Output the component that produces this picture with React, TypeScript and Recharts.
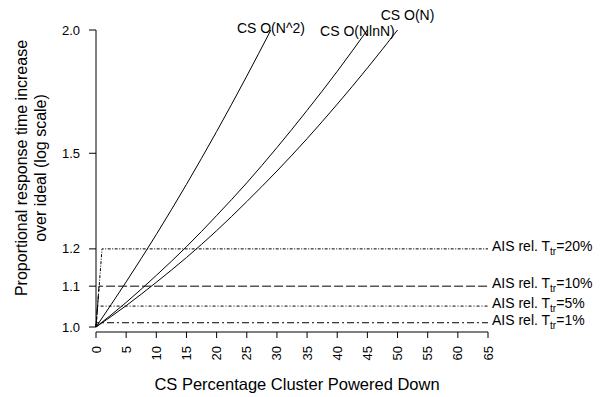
import React from 'react';
import { LineChart, Line, XAxis, YAxis, ReferenceLine } from 'recharts';

// x = % of cluster powered down, y = proportional response time increase
const csN2 = [
    { x: 0, y: 1.0 }, { x: 5, y: 1.111 }, { x: 10, y: 1.241 }, { x: 15, y: 1.395 },
    { x: 20, y: 1.578 }, { x: 25, y: 1.796 }, { x: 29, y: 2.0 },
];
const csNlnN = [
    { x: 0, y: 1.0 }, { x: 5, y: 1.059 }, { x: 10, y: 1.128 }, { x: 15, y: 1.206 },
    { x: 20, y: 1.297 }, { x: 25, y: 1.4 }, { x: 30, y: 1.52 }, { x: 35, y: 1.658 },
    { x: 40, y: 1.816 }, { x: 45, y: 2.0 },
];
const csN = [
    { x: 0, y: 1.0 }, { x: 5, y: 1.051 }, { x: 10, y: 1.11 }, { x: 15, y: 1.176 },
    { x: 20, y: 1.252 }, { x: 25, y: 1.34 }, { x: 30, y: 1.439 }, { x: 35, y: 1.552 },
    { x: 40, y: 1.682 }, { x: 45, y: 1.83 }, { x: 50, y: 2.0 },
];
const ais20 = [{ x: 0, y: 1.0 }, { x: 1, y: 1.2 }, { x: 65, y: 1.2 }];
const ais10 = [{ x: 0, y: 1.0 }, { x: 0.5, y: 1.1 }, { x: 65, y: 1.1 }];
const ais5 = [{ x: 0, y: 1.0 }, { x: 0.25, y: 1.05 }, { x: 65, y: 1.05 }];
const ais1 = [{ x: 0, y: 1.0 }, { x: 0.05, y: 1.01 }, { x: 65, y: 1.01 }];

const xTicks = [0, 5, 10, 15, 20, 25, 30, 35, 40, 45, 50, 55, 60, 65];
const yTicks = [1.0, 1.1, 1.2, 1.5, 2.0];

const FONT = "'Liberation Sans', Arial, Helvetica, sans-serif";

const XTick = (props: any) => {
    const { x, y, payload } = props;
    return (
        <g transform={`translate(${x},${y + 6})`}>
            <text transform="rotate(-90)" textAnchor="end" dy="0.35em" fontSize={13} fill="#000" fontFamily={FONT}>
                {payload.value}
            </text>
        </g>
    );
};

// label drawn only at the last point of a series
const endLabel = (len: number, text: string, dx: number, dy: number) => (p: any) => {
    if (p.index !== len - 1) return null;
    return (
        <text x={p.x + dx} y={p.y + dy} dy="0.35em" textAnchor="middle" fontSize={14} fill="#000" fontFamily={FONT}>
            {text}
        </text>
    );
};

const aisLabel = (len: number, pct: string) => (p: any) => {
    if (p.index !== len - 1) return null;
    return (
        <text x={p.x + 4} y={p.y - 3} dy="0.35em" textAnchor="start" fontSize={14} fill="#000" fontFamily={FONT}>
            <tspan>AIS rel. T</tspan>
            <tspan fontSize={10} dy={4}>tr</tspan>
            <tspan dy={-4}>={pct}</tspan>
        </text>
    );
};

const YTitle = () => (
    <g fontFamily={FONT} fontSize={16} fill="#000">
        <text transform="translate(21,168) rotate(-90)" textAnchor="middle" dy="0.35em">
            Proportional response time increase
        </text>
        <text transform="translate(40,168) rotate(-90)" textAnchor="middle" dy="0.35em">
            over ideal (log scale)
        </text>
    </g>
);

const XTitle = () => (
    <text x={297} y={384} dy="0.35em" textAnchor="middle" fontSize={16.5} fill="#000" fontFamily={FONT}>
        CS Percentage Cluster Powered Down
    </text>
);

export default function App() {
    return (
        <div style={{ position: 'absolute', left: 0, top: 0, width: 607, height: 397, background: '#fff' }}>
            <LineChart width={607} height={397} margin={{ top: 30, right: 119, left: 36, bottom: 15 }}>
                <XAxis
                    type="number"
                    dataKey="x"
                    domain={[0, 65]}
                    ticks={xTicks}
                    interval={0}
                    height={50}
                    stroke="#000"
                    tickSize={6}
                    tick={<XTick />}
                    label={{ content: () => <XTitle /> }}
                />
                <YAxis
                    type="number"
                    dataKey="y"
                    scale="log"
                    domain={[0.9884, 2]}
                    allowDataOverflow
                    ticks={yTicks}
                    interval={0}
                    width={60}
                    axisLine={false}
                    stroke="#000"
                    tickSize={7}
                    tickMargin={9}
                    tick={{ fontSize: 13, fill: '#000', fontFamily: FONT }}
                    tickFormatter={(v: number) => v.toFixed(1)}
                    label={{ content: () => <YTitle /> }}
                />
                <ReferenceLine segment={[{ x: 0, y: 1.0 }, { x: 0, y: 2.0 }]} stroke="#000" strokeWidth={1} />

                <Line data={csN2} dataKey="y" type="monotone" stroke="#000" strokeWidth={1} dot={false}
                    isAnimationActive={false} label={endLabel(csN2.length, 'CS O(N^2)', 0, -2)} />
                <Line data={csNlnN} dataKey="y" type="monotone" stroke="#000" strokeWidth={1} dot={false}
                    isAnimationActive={false} label={endLabel(csNlnN.length, 'CS O(NlnN)', -10, 1)} />
                <Line data={csN} dataKey="y" type="monotone" stroke="#000" strokeWidth={1} dot={false}
                    isAnimationActive={false} label={endLabel(csN.length, 'CS O(N)', 10, -15)} />

                <Line data={ais20} dataKey="y" type="linear" stroke="#000" strokeWidth={1} strokeDasharray="3 1.5 1 1.5"
                    dot={false} isAnimationActive={false} label={aisLabel(ais20.length, '20%')} />
                <Line data={ais10} dataKey="y" type="linear" stroke="#000" strokeWidth={1} strokeDasharray="9 3"
                    dot={false} isAnimationActive={false} label={aisLabel(ais10.length, '10%')} />
                <Line data={ais5} dataKey="y" type="linear" stroke="#000" strokeWidth={1} strokeDasharray="3 2 1 2"
                    dot={false} isAnimationActive={false} label={aisLabel(ais5.length, '5%')} />
                <Line data={ais1} dataKey="y" type="linear" stroke="#000" strokeWidth={1} strokeDasharray="7 3 2 3"
                    dot={false} isAnimationActive={false} label={aisLabel(ais1.length, '1%')} />
            </LineChart>
        </div>
    );
}
